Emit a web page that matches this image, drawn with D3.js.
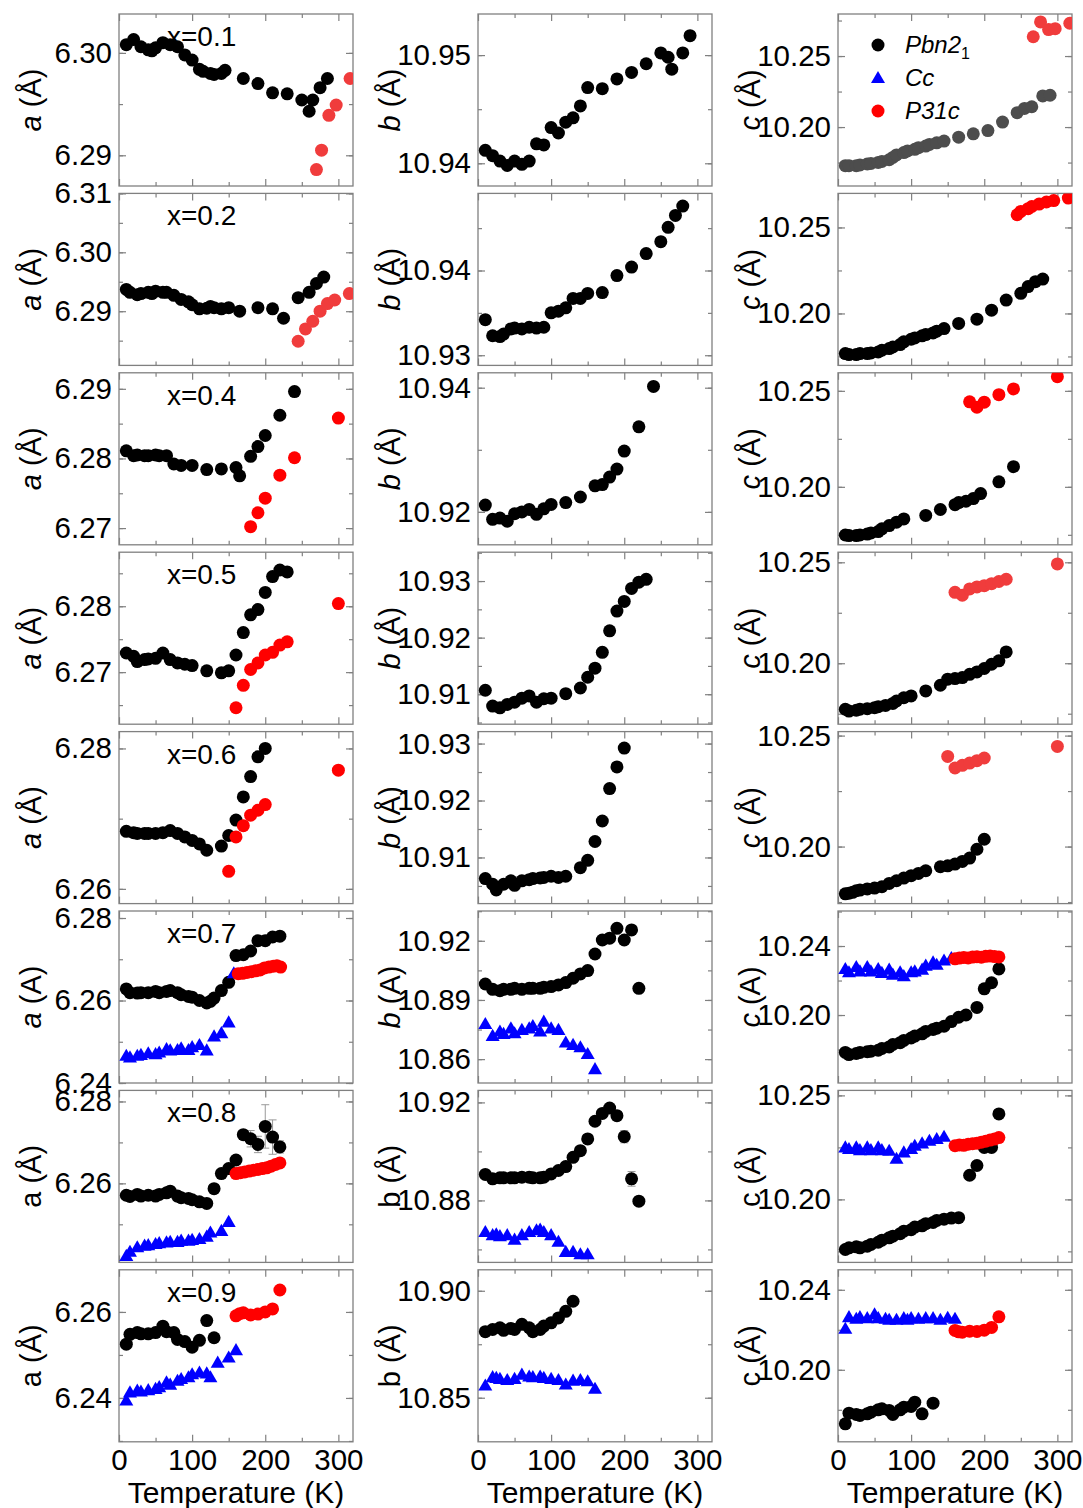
<!DOCTYPE html>
<html>
<head>
<meta charset="utf-8">
<script src="https://cdn.jsdelivr.net/npm/d3@7"></script>
<style>
body { margin: 0; background: #fff; }
text { font-family: "Liberation Sans", Arial, sans-serif; }
.ax path { display: none; }
.ax line { stroke: #808080; stroke-width: 1.2; }
.ax text { font-size: 29.5px; fill: #000; font-family: "Liberation Sans", Arial, sans-serif; }
</style>
</head>
<body>
<svg width="1083" height="1508"></svg>
<script>
// compositions, one per row
var comps = ['x=0.1', 'x=0.2', 'x=0.4', 'x=0.5', 'x=0.6', 'x=0.7', 'x=0.8', 'x=0.9'];

// y ranges
var aDom = [[6.2870, 6.3038], [6.2808, 6.3100], [6.2676, 6.2923], [6.2621, 6.2882],
            [6.2579, 6.2824], [6.2400, 6.2817], [6.2407, 6.2827], [6.2298, 6.2698]];
var bDom = [[10.9379, 10.9538], [10.9288, 10.9491], [10.9147, 10.9424], [10.9047, 10.9351],
            [10.9019, 10.9321], [10.8479, 10.9351], [10.8547, 10.9249], [10.8294, 10.9098]];
var cDom = [[10.1585, 10.2796], [10.1698, 10.2698], [10.1698, 10.2594], [10.1698, 10.2550],
            [10.1743, 10.2518], [10.1606, 10.2603], [10.1697, 10.2524], [10.1640, 10.2500]];
// [major, minor] tick steps
var aStep = [[0.01, 0.005], [0.01, 0.005], [0.01, 0.005], [0.01, 0.005], [0.02, 0.01], [0.02, 0.01], [0.02, 0.01], [0.02, 0.01]];
var bStep = [[0.01, 0.005], [0.01, 0.005], [0.02, 0.01], [0.01, 0.005], [0.01, 0.005], [0.03, 0.015], [0.04, 0.02], [0.05, 0.025]];
var cStep = [[0.05, 0.025], [0.05, 0.025], [0.05, 0.025], [0.05, 0.025], [0.05, 0.025], [0.04, 0.02], [0.05, 0.025], [0.04, 0.02]];
var xMajor = [0, 100, 200, 300];
var xMinor = [50, 150, 250];

// ---- x = 0.1
var a1P = [[10,6.3008],[20,6.3013],[30,6.3006],[40,6.3003],[45,6.3002],[50,6.3005],[60,6.3010],[70,6.3008],[80,6.3006],[90,6.2998],[100,6.2993],[110,6.2984],[115,6.2982],[125,6.2980],[130,6.2979],[140,6.2980],[145,6.2983],[170,6.2975],[190,6.2970],[210,6.2961],[230,6.2960],[250,6.2954],[260,6.2943],[265,6.2954],[275,6.2966],[285,6.2975]];
var a1R = [[270,6.2886],[277,6.2905],[287,6.2939],[297,6.2949],[316,6.2975]];
var b1P = [[10,10.9412],[20,10.9407],[30,10.9402],[40,10.9398],[50,10.9402],[60,10.9399],[70,10.9402],[80,10.9418],[90,10.9417],[100,10.9433],[110,10.9428],[120,10.9438],[130,10.9442],[140,10.9453],[150,10.9470],[170,10.9469],[190,10.9478],[210,10.9484],[230,10.9492],[250,10.9502],[260,10.9498],[265,10.9487],[280,10.9502],[290,10.9518]];
var c1P = [[10,10.1728],[15,10.1728],[25,10.1728],[30,10.1733],[40,10.1740],[45,10.1744],[55,10.1751],[60,10.1758],[70,10.1770],[75,10.1786],[80,10.1804],[90,10.1820],[95,10.1832],[105,10.1843],[110,10.1855],[120,10.1866],[125,10.1878],[135,10.1889],[145,10.1901],[165,10.1929],[185,10.1952],[205,10.1975],[225,10.2035],[245,10.2101],[255,10.2131],[265,10.2143],[280,10.2219],[290,10.2224]];
var c1R = [[267,10.2636],[277,10.2740],[288,10.2686],[297,10.2693],[317,10.2731]];

// ---- x = 0.2
var a2P = [[10,6.2937],[15,6.2932],[25,6.2928],[30,6.2930],[40,6.2932],[45,6.2930],[50,6.2934],[60,6.2932],[65,6.2932],[75,6.2927],[85,6.2920],[95,6.2916],[100,6.2911],[110,6.2904],[120,6.2905],[125,6.2908],[130,6.2906],[140,6.2904],[150,6.2906],[165,6.2900],[190,6.2906],[210,6.2904],[225,6.2888],[245,6.2923],[260,6.2932],[270,6.2947],[280,6.2958]];
var a2R = [[245,6.2849],[255,6.2870],[265,6.2883],[275,6.2900],[285,6.2913],[295,6.2919],[315,6.2930]];
var b2P = [[10,10.9342],[20,10.9323],[30,10.9322],[35,10.9325],[45,10.9331],[50,10.9332],[60,10.9331],[70,10.9333],[80,10.9332],[90,10.9333],[100,10.9350],[110,10.9352],[120,10.9356],[130,10.9367],[140,10.9367],[150,10.9373],[170,10.9374],[190,10.9394],[210,10.9404],[230,10.9420],[250,10.9434],[260,10.9451],[270,10.9465],[280,10.9476]];
var c2P = [[10,10.1767],[15,10.1761],[25,10.1761],[30,10.1767],[40,10.1767],[45,10.1770],[55,10.1776],[60,10.1786],[70,10.1796],[75,10.1805],[85,10.1819],[90,10.1835],[100,10.1850],[105,10.1858],[115,10.1870],[120,10.1877],[130,10.1887],[135,10.1897],[145,10.1912],[165,10.1942],[190,10.1967],[210,10.2019],[230,10.2078],[250,10.2117],[260,10.2156],[270,10.2185],[280,10.2200]];
var c2R = [[245,10.2574],[250,10.2593],[260,10.2609],[265,10.2622],[275,10.2636],[285,10.2648],[295,10.2656],[315,10.2671]];

// ---- x = 0.4
var a3P = [[10,6.2811],[20,6.2804],[25,6.2805],[35,6.2804],[40,6.2804],[50,6.2805],[55,6.2804],[65,6.2804],[75,6.2792],[85,6.2790],[100,6.2790],[120,6.2784],[140,6.2785],[160,6.2787],[165,6.2775],[180,6.2803],[190,6.2817],[200,6.2833],[220,6.2862],[240,6.2896]];
var a3R = [[180,6.2702],[190,6.2722],[200,6.2743],[220,6.2776],[240,6.2801],[300,6.2858]];
var b3P = [[10,10.9211],[20,10.9188],[30,10.9190],[40,10.9185],[50,10.9197],[60,10.9200],[70,10.9204],[80,10.9196],[90,10.9205],[100,10.9212],[120,10.9215],[140,10.9224],[160,10.9242],[170,10.9244],[180,10.9256],[190,10.9269],[200,10.9298],[220,10.9337],[240,10.9402]];
var c3P = [[10,10.1749],[15,10.1746],[25,10.1746],[30,10.1749],[40,10.1754],[45,10.1760],[55,10.1767],[60,10.1781],[70,10.1798],[80,10.1816],[90,10.1833],[120,10.1851],[140,10.1882],[160,10.1907],[165,10.1918],[175,10.1925],[185,10.1939],[195,10.1965],[220,10.2026],[240,10.2105]];
var c3R = [[180,10.2443],[190,10.2415],[200,10.2441],[220,10.2480],[240,10.2510],[300,10.2574]];

// ---- x = 0.5
var a4P = [[10,6.2729],[20,6.2724],[25,6.2716],[35,6.2719],[40,6.2720],[50,6.2721],[60,6.2729],[70,6.2719],[80,6.2714],[90,6.2712],[100,6.2710],[120,6.2702],[140,6.2699],[150,6.2702],[160,6.2726],[170,6.2760],[180,6.2787],[190,6.2795],[200,6.2821],[210,6.2845],[220,6.2855],[230,6.2852]];
var a4R = [[160,6.2646],[170,6.2680],[180,6.2704],[190,6.2714],[200,6.2726],[210,6.2730],[220,6.2741],[230,6.2746],[300,6.2804]];
var b4P = [[10,10.9107],[20,10.9079],[30,10.9076],[40,10.9082],[50,10.9086],[60,10.9093],[70,10.9097],[80,10.9086],[90,10.9092],[100,10.9093],[120,10.9101],[140,10.9111],[150,10.9130],[160,10.9146],[170,10.9174],[180,10.9212],[190,10.9247],[200,10.9264],[210,10.9287],[220,10.9298],[230,10.9303]];
var c4P = [[10,10.1772],[15,10.1763],[25,10.1767],[30,10.1772],[40,10.1775],[50,10.1780],[55,10.1785],[65,10.1791],[75,10.1801],[80,10.1813],[90,10.1829],[100,10.1838],[120,10.1863],[140,10.1891],[150,10.1921],[160,10.1924],[170,10.1929],[180,10.1945],[190,10.1957],[200,10.1974],[210,10.1995],[220,10.2012],[230,10.2056]];
var c4R = [[160,10.2351],[170,10.2337],[180,10.2368],[190,10.2378],[200,10.2384],[210,10.2394],[220,10.2405],[230,10.2416],[300,10.2492]];

// ---- x = 0.6
var a5P = [[10,6.2682],[20,6.2680],[25,6.2679],[35,6.2679],[40,6.2679],[50,6.2679],[60,6.2680],[70,6.2683],[80,6.2679],[90,6.2674],[100,6.2669],[110,6.2664],[120,6.2655],[140,6.2661],[150,6.2676],[160,6.2698],[170,6.2731],[180,6.2760],[190,6.2788],[200,6.2800]];
var a5R = [[150,6.2625],[160,6.2674],[170,6.2690],[180,6.2705],[190,6.2712],[200,6.2720],[300,6.2769]];
var b5P = [[10,10.9063],[20,10.9053],[25,10.9043],[35,10.9053],[45,10.9059],[50,10.9051],[60,10.9059],[70,10.9061],[75,10.9063],[85,10.9064],[90,10.9065],[100,10.9067],[110,10.9065],[120,10.9067],[140,10.9082],[150,10.9095],[160,10.9128],[170,10.9164],[180,10.9221],[190,10.9259],[200,10.9292]];
var c5P = [[10,10.1787],[15,10.1790],[20,10.1794],[25,10.1801],[30,10.1804],[40,10.1809],[50,10.1813],[60,10.1819],[70,10.1834],[80,10.1846],[90,10.1858],[100,10.1869],[110,10.1879],[120,10.1891],[140,10.1909],[150,10.1913],[160,10.1921],[170,10.1933],[180,10.1948],[190,10.1988],[200,10.2033]];
var c5R = [[150,10.2406],[160,10.2354],[170,10.2366],[180,10.2376],[190,10.2387],[200,10.2399],[300,10.2451]];

// ---- x = 0.7
var a6P = [[10,6.2628],[15,6.2619],[25,6.2618],[30,6.2619],[40,6.2619],[50,6.2622],[55,6.2619],[65,6.2622],[70,6.2624],[80,6.2619],[85,6.2614],[95,6.2610],[100,6.2608],[110,6.2600],[120,6.2594],[125,6.2598],[130,6.2606],[140,6.2624],[150,6.2644],[160,6.2709],[170,6.2711],[180,6.2720],[190,6.2745],[200,6.2745],[210,6.2754],[220,6.2756]];
var a6C = [[10,6.2466],[15,6.2462],[25,6.2466],[30,6.2468],[40,6.2472],[50,6.2470],[55,6.2474],[65,6.2482],[70,6.2479],[80,6.2480],[85,6.2484],[95,6.2480],[100,6.2487],[110,6.2492],[120,6.2479],[130,6.2513],[140,6.2521],[150,6.2547],[157,6.2666]];
var a6R = [[163,6.2665],[169,6.2666],[175,6.2668],[181,6.2670],[187,6.2672],[193,6.2674],[199,6.2679],[205,6.2681],[211,6.2683],[216,6.2684],[221,6.2681]];
var b6P = [[10,10.8981],[20,10.8954],[30,10.8947],[35,10.8954],[45,10.8954],[50,10.8959],[60,10.8954],[70,10.8959],[75,10.8959],[85,10.8959],[90,10.8964],[100,10.8968],[110,10.8976],[120,10.8988],[130,10.9010],[140,10.9032],[150,10.9049],[160,10.9133],[170,10.9204],[180,10.9213],[190,10.9263],[200,10.9204],[210,10.9255],[220,10.8959]];
var b6C = [[10,10.8778],[20,10.8718],[30,10.8740],[35,10.8728],[45,10.8756],[50,10.8731],[60,10.8748],[70,10.8756],[75,10.8768],[85,10.8740],[90,10.8790],[100,10.8756],[110,10.8748],[120,10.8684],[130,10.8672],[140,10.8660],[150,10.8626],[160,10.8549]];
var c6P = [[10,10.1783],[15,10.1771],[25,10.1777],[30,10.1783],[40,10.1787],[45,10.1790],[55,10.1796],[60,10.1806],[70,10.1815],[75,10.1829],[85,10.1840],[90,10.1853],[100,10.1867],[105,10.1878],[115,10.1891],[120,10.1905],[130,10.1916],[135,10.1924],[145,10.1935],[155,10.1962],[165,10.1987],[175,10.2000],[190,10.2044],[200,10.2152],[210,10.2187],[220,10.2267]];
var c6C = [[10,10.2267],[15,10.2248],[25,10.2278],[30,10.2253],[40,10.2278],[45,10.2253],[55,10.2267],[60,10.2244],[70,10.2263],[75,10.2234],[85,10.2248],[90,10.2225],[100,10.2248],[105,10.2253],[115,10.2263],[120,10.2286],[130,10.2305],[135,10.2291],[145,10.2316],[155,10.2330]];
var c6R = [[160,10.2326],[166,10.2330],[172,10.2334],[178,10.2331],[184,10.2336],[190,10.2338],[196,10.2335],[202,10.2340],[208,10.2342],[214,10.2339],[220,10.2337]];

// ---- x = 0.8 (third value: error bar half-width)
var a7P = [[10,6.2571],[15,6.2568],[25,6.2573],[30,6.2569],[40,6.2571],[50,6.2569],[55,6.2573],[65,6.2577],[70,6.2581],[80,6.2569],[85,6.2565],[95,6.2563],[100,6.2560],[110,6.2555],[120,6.2551],[130,6.2587],[140,6.2624],[150,6.2636],[160,6.2657],[170,6.2719,0.0010],[180,6.2709,0.0020],[190,6.2695,0.0020],[200,6.2739,0.0053],[210,6.2713,0.0042],[220,6.2689,0.0015]];
var a7C = [[10,6.2423],[15,6.2433],[25,6.2444],[35,6.2448],[40,6.2449],[50,6.2452],[55,6.2454],[65,6.2456],[70,6.2457],[80,6.2457],[85,6.2460],[95,6.2460],[100,6.2462],[110,6.2464],[120,6.2470],[125,6.2480],[140,6.2484],[150,6.2506]];
var a7R = [[160,6.2624],[166,6.2626],[172,6.2628],[178,6.2630],[184,6.2632],[190,6.2634],[196,6.2636],[202,6.2638],[208,6.2642],[214,6.2646],[220,6.2650]];
var b7P = [[10,10.8906],[20,10.8888],[30,10.8892],[35,10.8892],[45,10.8892],[50,10.8892],[60,10.8895],[70,10.8895],[75,10.8892],[85,10.8892],[90,10.8895],[100,10.8908],[110,10.8922],[120,10.8938],[130,10.8976],[140,10.9003],[150,10.9051],[160,10.9123],[170,10.9155],[180,10.9177],[190,10.9146],[200,10.9060,0.0025],[210,10.8888,0.0030],[220,10.8797]];
var b7C = [[10,10.8671],[20,10.8658],[25,10.8662],[30,10.8654],[40,10.8658],[50,10.8640],[60,10.8658],[70,10.8671],[80,10.8678],[85,10.8681],[90,10.8671],[100,10.8658],[110,10.8631],[120,10.8590],[130,10.8590],[140,10.8580],[150,10.8580]];
var c7P = [[10,10.1759],[15,10.1767],[25,10.1772],[30,10.1767],[40,10.1775],[45,10.1783],[55,10.1794],[60,10.1804],[70,10.1815],[75,10.1823],[85,10.1835],[90,10.1847],[100,10.1854],[105,10.1867],[115,10.1873],[120,10.1883],[130,10.1889],[135,10.1899],[145,10.1905],[155,10.1910],[165,10.1912],[180,10.2116],[190,10.2163],[200,10.2250],[210,10.2250],[220,10.2411]];
var c7C = [[10,10.2250],[15,10.2242],[25,10.2250],[30,10.2237],[40,10.2250],[45,10.2237],[55,10.2250],[60,10.2237],[70,10.2234],[80,10.2195],[90,10.2226],[100,10.2242],[105,10.2258],[115,10.2269],[125,10.2282],[135,10.2290],[145,10.2301]];
var c7R = [[160,10.2258],[166,10.2262],[172,10.2260],[178,10.2265],[184,10.2268],[190,10.2270],[196,10.2275],[202,10.2280],[208,10.2285],[214,10.2290],[220,10.2297]];

// ---- x = 0.9
var a8P = [[10,6.2525],[15,6.2548],[25,6.2552],[30,6.2549],[40,6.2549],[50,6.2552],[60,6.2567],[65,6.2554],[75,6.2552],[80,6.2536],[90,6.2531],[100,6.2518],[110,6.2534],[120,6.2580],[130,6.2540]];
var a8C = [[10,6.2394],[15,6.2413],[25,6.2417],[30,6.2415],[40,6.2418],[50,6.2421],[55,6.2425],[65,6.2436],[70,6.2431],[80,6.2440],[85,6.2444],[95,6.2448],[100,6.2455],[110,6.2459],[120,6.2457],[125,6.2448],[135,6.2482],[150,6.2494],[160,6.2511]];
var a8R = [[160,6.2591],[165,6.2596],[170,6.2598],[180,6.2593],[190,6.2595],[200,6.2600],[210,6.2607],[220,6.2651]];
var b8P = [[10,10.8809],[20,10.8819],[30,10.8827],[35,10.8815],[45,10.8824],[50,10.8819],[60,10.8843],[70,10.8827],[75,10.8809],[85,10.8819],[90,10.8835],[100,10.8850],[110,10.8873],[120,10.8904],[130,10.8951]];
var b8C = [[10,10.8557],[20,10.8596],[25,10.8593],[30,10.8588],[40,10.8583],[50,10.8588],[60,10.8608],[70,10.8599],[75,10.8596],[85,10.8599],[90,10.8593],[100,10.8588],[110,10.8583],[120,10.8562],[130,10.8580],[140,10.8583],[150,10.8577],[160,10.8542]];
var c8P = [[10,10.1730],[15,10.1783],[25,10.1777],[30,10.1772],[40,10.1780],[45,10.1788],[55,10.1800],[60,10.1805],[70,10.1797],[75,10.1777],[85,10.1800],[90,10.1813],[100,10.1817],[105,10.1838],[115,10.1780],[130,10.1833]];
var c8C = [[10,10.2205],[15,10.2263],[25,10.2255],[30,10.2263],[40,10.2258],[50,10.2277],[55,10.2258],[65,10.2255],[70,10.2250],[80,10.2250],[90,10.2258],[95,10.2250],[100,10.2258],[110,10.2255],[120,10.2258],[130,10.2258],[140,10.2250],[150,10.2260],[160,10.2255]];
var c8R = [[160,10.2197],[165,10.2190],[170,10.2188],[180,10.2193],[190,10.2192],[200,10.2198],[210,10.2212],[220,10.2265]];

var pbn = [[a1P, b1P, c1P], [a2P, b2P, c2P], [a3P, b3P, c3P], [a4P, b4P, c4P],
           [a5P, b5P, c5P], [a6P, b6P, c6P], [a7P, b7P, c7P], [a8P, b8P, c8P]];
var cc  = [null, null, null, null, null, [a6C, b6C, c6C], [a7C, b7C, c7C], [a8C, b8C, c8C]];
var p31 = [[a1R, null, c1R], [a2R, null, c2R], [a3R, null, c3R], [a4R, null, c4R],
           [a5R, null, c5R], [a6R, null, c6R], [a7R, null, c7R], [a8R, null, c8R]];

var svg = d3.select('svg'),
    W = 234, H = 172,
    colLeft = [119, 478, 838],
    rowTop0 = 14, rowPitch = 179.4,
    fmt = d3.format('.2f'),
    letters = ['a', 'b', 'c'];

var x = d3.scaleLinear().domain([0, 320]).range([0, W]);
var tri = d3.symbol().type(d3.symbolTriangle).size(85);

function ticksIn(dom, step) {
    var out = [];
    var lo = Math.ceil(dom[0] / step - 1e-6), hi = Math.floor(dom[1] / step + 1e-6);
    for (var k = lo; k <= hi; k++) out.push(+(k * step).toFixed(4));
    return out;
}

function drawPanel(r, c) {
    var dom = [aDom, bDom, cDom][c][r],
        step = [aStep, bStep, cStep][c][r],
        left = colLeft[c],
        top = rowTop0 + r * rowPitch;
    var y = d3.scaleLinear().domain(dom).range([H, 0]);
    var g = svg.append('g').attr('transform', 'translate(' + left + ',' + top + ')');
    var id = 'clip' + r + c;
    g.append('clipPath').attr('id', id).append('rect').attr('width', W).attr('height', H);

    var minor = ticksIn(dom, step[1]), major = ticksIn(dom, step[0]);

    // ticks, all pointing inward
    g.append('g').attr('class', 'ax').call(d3.axisLeft(y).tickValues(minor).tickSize(-4).tickFormat(''));
    g.append('g').attr('class', 'ax').call(d3.axisLeft(y).tickValues(major).tickSize(-7).tickPadding(7).tickFormat(fmt));
    g.append('g').attr('class', 'ax').attr('transform', 'translate(' + W + ',0)')
        .call(d3.axisRight(y).tickValues(minor).tickSize(-4).tickFormat(''));
    g.append('g').attr('class', 'ax').attr('transform', 'translate(' + W + ',0)')
        .call(d3.axisRight(y).tickValues(major).tickSize(-7).tickFormat(''));
    g.append('g').attr('class', 'ax').call(d3.axisTop(x).tickValues(xMinor).tickSize(-4).tickFormat(''));
    g.append('g').attr('class', 'ax').call(d3.axisTop(x).tickValues(xMajor).tickSize(-7).tickFormat(''));
    g.append('g').attr('class', 'ax').attr('transform', 'translate(0,' + H + ')')
        .call(d3.axisBottom(x).tickValues(xMinor).tickSize(-4).tickFormat(''));
    g.append('g').attr('class', 'ax').attr('transform', 'translate(0,' + H + ')')
        .call(d3.axisBottom(x).tickValues(xMajor).tickSize(-7).tickPadding(7).tickFormat(r === 7 ? d3.format('d') : ''));

    g.append('rect').attr('width', W).attr('height', H)
        .attr('fill', 'none').attr('stroke', '#808080').attr('stroke-width', 1.3);

    // y label
    var lab = g.append('text')
        .attr('transform', 'translate(-88,' + (H / 2) + ') rotate(-90)')
        .attr('text-anchor', 'middle').attr('dy', '0.35em')
        .style('font-size', '29px');
    lab.append('tspan').style('font-style', r < 6 ? 'italic' : 'normal').text(letters[c]);
    lab.append('tspan').text(r === 5 ? ' (A)' : ' (\u00c5)');

    if (r === 7) {
        g.append('text').attr('x', W / 2).attr('y', H + 61)
            .attr('text-anchor', 'middle').style('font-size', '30px').text('Temperature (K)');
    }
    if (c === 0) {
        g.append('text').attr('x', 48).attr('y', 32).style('font-size', '28px').text(comps[r]);
    }

    var plot = g.append('g').attr('clip-path', 'url(#' + id + ')');
    var blk = (r === 0 && c === 2) ? '#4d4d4d' : '#000';
    var red = ((r === 0 && c !== 1) || (r === 1 && c === 0) || (r === 3 && c === 2) || (r === 4 && c === 2)) ? '#f03c3c' : '#ff0000';

    var P = pbn[r][c], C = cc[r] ? cc[r][c] : null, R = p31[r][c];

    var errs = P.filter(function (d) { return d.length > 2; });
    var eb = plot.append('g').attr('stroke', '#999').attr('stroke-width', 1);
    errs.forEach(function (d) {
        var px = x(d[0]), y0 = y(d[1] - d[2]), y1 = y(d[1] + d[2]);
        eb.append('line').attr('x1', px).attr('x2', px).attr('y1', y0).attr('y2', y1);
        eb.append('line').attr('x1', px - 4).attr('x2', px + 4).attr('y1', y0).attr('y2', y0);
        eb.append('line').attr('x1', px - 4).attr('x2', px + 4).attr('y1', y1).attr('y2', y1);
    });

    plot.append('g').selectAll('circle').data(P).enter().append('circle')
        .attr('cx', function (d) { return x(d[0]); })
        .attr('cy', function (d) { return y(d[1]); })
        .attr('r', 6.5).attr('fill', blk);

    if (C) {
        plot.append('g').selectAll('path').data(C).enter().append('path')
            .attr('d', tri)
            .attr('transform', function (d) { return 'translate(' + x(d[0]) + ',' + (y(d[1]) + 1) + ')'; })
            .attr('fill', '#0000ff');
    }
    if (R) {
        plot.append('g').selectAll('circle').data(R).enter().append('circle')
            .attr('cx', function (d) { return x(d[0]); })
            .attr('cy', function (d) { return y(d[1]); })
            .attr('r', 6.5).attr('fill', red);
    }
}

for (var r = 0; r < 8; r++) {
    for (var c = 0; c < 3; c++) drawPanel(r, c);
}

// legend in the first c panel
var lg = svg.append('g').attr('transform', 'translate(' + (colLeft[2] + 40) + ',' + (rowTop0 + 31) + ')');
var names = [['Pbn2', '1'], ['Cc', ''], ['P31c', '']];
var cols = ['#000', '#0000ff', '#ff0000'];
names.forEach(function (n, i) {
    var yy = i * 33;
    if (i === 1) {
        lg.append('path').attr('d', tri).attr('transform', 'translate(0,' + (yy + 1) + ')').attr('fill', cols[i]);
    } else {
        lg.append('circle').attr('cx', 0).attr('cy', yy).attr('r', 6.5).attr('fill', cols[i]);
    }
    var t = lg.append('text').attr('x', 27).attr('y', yy + 8)
        .style('font-size', '24px').style('font-style', 'italic').text(n[0]);
    if (n[1]) t.append('tspan').attr('dy', 6).style('font-size', '16px').style('font-style', 'normal').text(n[1]);
});
</script>
</body>
</html>
